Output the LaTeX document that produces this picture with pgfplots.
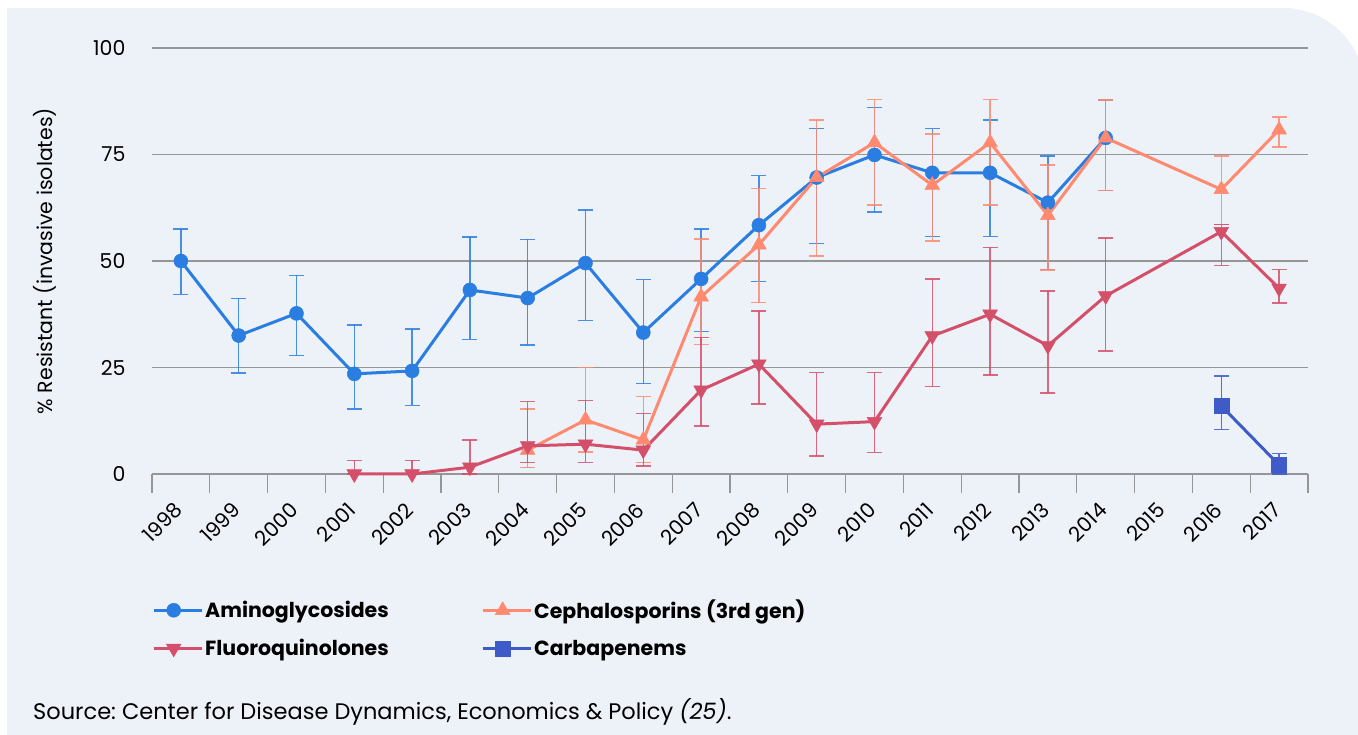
\documentclass[border=0pt]{standalone}
\usepackage{pgfplots}
\pgfplotsset{compat=1.18}
\usepackage{pgfplotstable}
\usepackage{fontspec}
\setmainfont{Poppins}
\frenchspacing
\definecolor{cAmino}{RGB}{42,125,225}
\definecolor{cCeph}{RGB}{255,138,112}
\definecolor{cFluoro}{RGB}{212,80,106}
\definecolor{cCarb}{RGB}{63,91,199}
\definecolor{panel}{RGB}{237,242,249}
\definecolor{gridc}{RGB}{150,150,150}

% x: 0 = 1998 ... 19 = 2017 ; ep / em = upper / lower error
\pgfplotstableread{
x y ep em
0 50.0 7.5 7.8
1 32.5 8.7 8.8
2 37.7 8.9 9.9
3 23.5 11.5 8.2
4 24.2 9.8 8.1
5 43.2 12.4 11.6
6 41.3 13.8 11.0
7 49.5 12.5 13.4
8 33.2 12.4 12.0
9 45.8 11.7 12.3
10 58.4 11.6 13.2
11 69.6 11.5 15.5
12 74.9 11.1 13.4
13 70.7 10.4 14.9
14 70.7 12.4 14.9
15 63.7 10.9 15.7
16 78.9 8.9 12.4
}\amino

\pgfplotstableread{
x y ep em
6 5.6 9.7 4.1
7 12.7 12.3 7.5
8 8.0 10.2 5.3
9 41.6 13.6 11.2
10 53.8 13.2 13.6
11 69.6 13.5 18.4
12 77.8 10.1 14.7
13 67.8 12.0 13.1
14 77.8 10.1 14.7
15 60.7 11.8 12.8
16 78.9 8.9 12.4
18 66.8 7.8 8.3
19 80.8 3.0 4.0
}\ceph

\pgfplotstableread{
x y ep em
3 0.0 3.2 0.0
4 0.0 3.2 0.0
5 1.6 6.4 1.6
6 6.6 10.4 3.9
7 7.0 10.2 4.3
8 5.6 8.6 3.7
9 19.7 12.4 8.4
10 25.8 12.5 9.4
11 11.7 12.1 7.5
12 12.3 11.5 7.2
13 32.4 13.4 11.8
14 37.5 15.7 14.3
15 30.1 12.9 11.1
16 41.8 13.6 12.9
18 56.9 1.6 7.9
19 43.6 4.4 3.5
}\fluoro

\pgfplotstableread{
x y ep em
18 16.0 7.0 5.5
19 2.1 2.7 2.1
}\carb

\begin{document}
\begin{tikzpicture}
\path[use as bounding box] (0bp,0bp) rectangle (1358bp,735bp);
\fill[white] (0bp,0bp) rectangle (1358bp,735bp);
\begin{scope}
\clip (0bp,0bp) rectangle (1358bp,735bp);
\fill[panel] (7bp,0bp) -- (7bp,727bp) -- (1283bp,727bp) arc[start angle=90,end angle=0,radius=82bp] -- (1365bp,0bp) -- cycle;
\end{scope}
\begin{axis}[
  at={(152bp,261bp)}, anchor=south west,
  scale only axis, width=1156bp, height=426bp,
  xmin=-0.5, xmax=19.5, ymin=0, ymax=100,
  clip=false,
  axis line style={draw=none},
  xtick={0,...,19},
  xticklabels={1998,1999,2000,2001,2002,2003,2004,2005,2006,2007,2008,2009,2010,2011,2012,2013,2014,2015,2016,2017},
  minor xtick={-0.5,0.5,...,19.5},
  major tick length=0pt, minor tick length=19bp,
  tick align=outside,
  xtick pos=bottom, ytick pos=left,
  major tick style={draw=none},
  minor x tick style={draw=gridc, line width=1.2bp},
  ytick={0,25,50,75,100},
  ymajorgrids, grid style={gridc, line width=1.3bp},
  /pgf/number format/assume math mode=true,
  yticklabel style={font=\fontsize{20.5bp}{24bp}\selectfont, xshift=-23bp},
  xticklabel style={font=\fontsize{20.5bp}{24bp}\selectfont, yshift=-30bp, rotate=45, anchor=east},
  ylabel={\% Resistant (invasive isolates)},
  every axis y label/.style={at={(axis description cs:0,0.5)}, xshift=-107bp, rotate=90, anchor=center, font=\fontsize{20.5bp}{24bp}\selectfont},
  legend columns=2,
  legend style={at={(axis description cs:0,-0.291)}, anchor=north west, draw=none, fill=none, inner sep=0pt,
    font=\bfseries\fontsize{20.5bp}{24bp}\selectfont, row sep=15bp},
  legend cell align=left,
  legend image code/.code={\draw[mark repeat=2,mark phase=2,#1] plot coordinates {(0bp,0bp) (20bp,0bp) (40bp,0bp)}; \path (0bp,0bp) -- (48bp,0bp);},
  every axis plot/.append style={line width=3bp},
  error bars/error bar style={line width=1.4bp, opacity=0.85},
  error bars/error mark options={rotate=90, line width=1.4bp, mark size=7.5bp, opacity=0.85},
]
\addplot[color=cAmino, mark=*, mark size=7bp, mark options={solid, fill=cAmino, line width=0.5bp},
  error bars/.cd, y dir=both, y explicit]
  table[x=x, y=y, y error plus=ep, y error minus=em] {\amino};
\addlegendentry{\makebox[274bp][l]{Aminoglycosides}}
\addplot[color=cCeph, mark=triangle*, mark size=8.5bp, mark options={solid, fill=cCeph, line width=0.5bp},
  error bars/.cd, y dir=both, y explicit]
  table[x=x, y=y, y error plus=ep, y error minus=em] {\ceph};
\addlegendentry{Cephalosporins (3rd gen)}
\addplot[color=cFluoro, mark=triangle*, mark size=8.5bp, mark options={solid, fill=cFluoro, line width=0.5bp, rotate=180},
  error bars/.cd, y dir=both, y explicit]
  table[x=x, y=y, y error plus=ep, y error minus=em] {\fluoro};
\addlegendentry{\makebox[274bp][l]{Fluoroquinolones}}
\addplot[color=cCarb, mark=square*, mark size=7.5bp, mark options={solid, fill=cCarb, line width=0.5bp},
  error bars/.cd, y dir=both, y explicit]
  table[x=x, y=y, y error plus=ep, y error minus=em] {\carb};
\addlegendentry{Carbapenems}
\end{axis}
\node[anchor=west, inner sep=0pt, font=\fontsize{22.5bp}{26bp}\selectfont] at (33bp,23bp)
  {Source: Center for Disease Dynamics, Economics \& Policy \textit{(25)}.};
\end{tikzpicture}
\end{document}
